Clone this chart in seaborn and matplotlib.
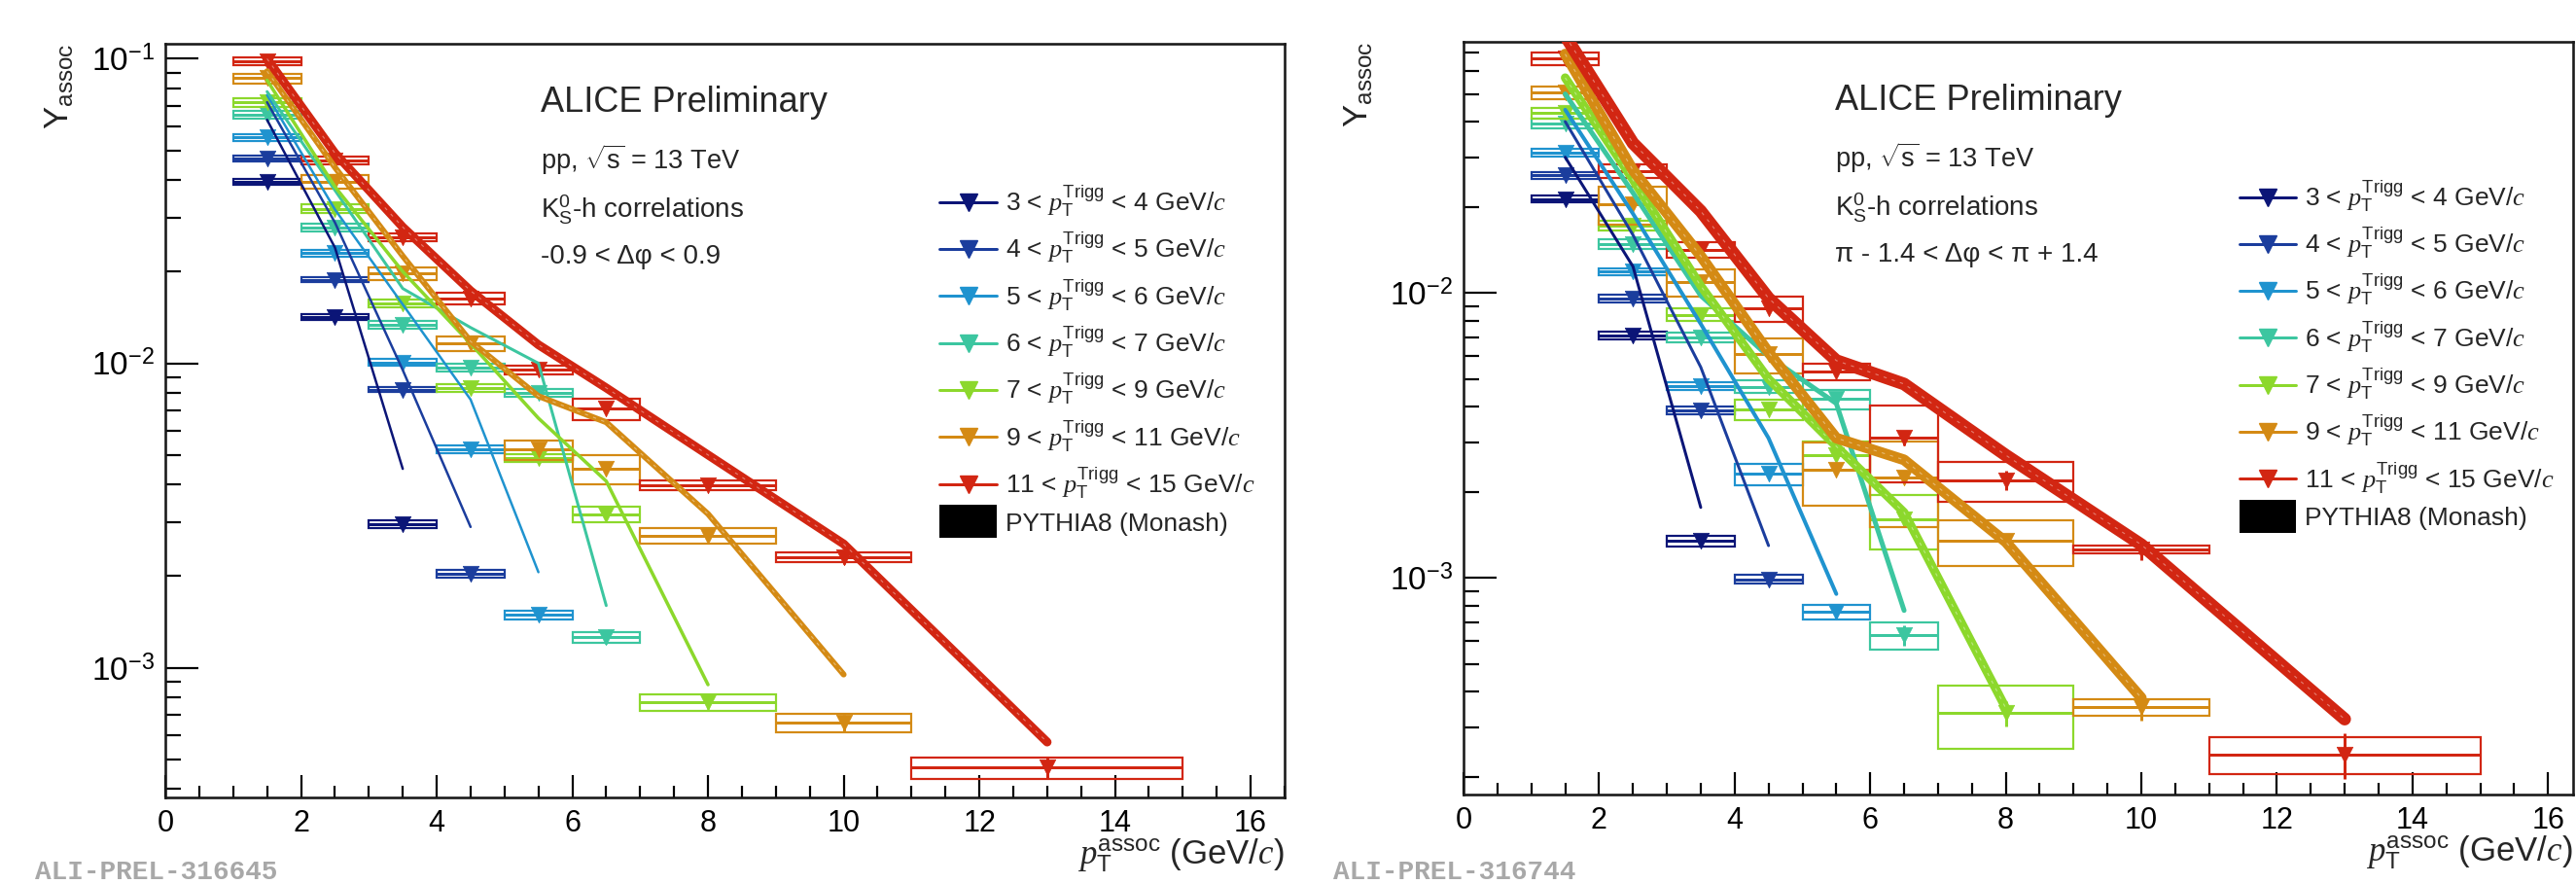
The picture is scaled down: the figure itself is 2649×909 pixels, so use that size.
import numpy as np
import pandas as pd
import matplotlib
matplotlib.use("Agg")
import matplotlib.pyplot as plt
import seaborn as sns
from matplotlib.patches import Rectangle
from matplotlib.lines import Line2D
from matplotlib.ticker import LogLocator, MultipleLocator, NullFormatter, FuncFormatter

sns.set_theme(style="ticks")
plt.rcParams["font.family"] = ["Liberation Sans", "DejaVu Sans"]
plt.rcParams["mathtext.fontset"] = "custom"
plt.rcParams["mathtext.rm"] = "Liberation Sans"
plt.rcParams["mathtext.it"] = "Liberation Serif:italic"
plt.rcParams["mathtext.bf"] = "Liberation Sans:bold"

# ---------------- data ----------------
BIN_LO = [1, 2, 3, 4, 5, 6, 7, 9, 11]
BIN_HI = [2, 3, 4, 5, 6, 7, 9, 11, 15]
CENTERS = [1.5, 2.5, 3.5, 4.5, 5.5, 6.5, 8, 10, 13]

TRIG_LABELS = [
    r"3 < $p_{\mathrm{T}}^{\mathrm{Trigg}}$ < 4 GeV/$c$",
    r"4 < $p_{\mathrm{T}}^{\mathrm{Trigg}}$ < 5 GeV/$c$",
    r"5 < $p_{\mathrm{T}}^{\mathrm{Trigg}}$ < 6 GeV/$c$",
    r"6 < $p_{\mathrm{T}}^{\mathrm{Trigg}}$ < 7 GeV/$c$",
    r"7 < $p_{\mathrm{T}}^{\mathrm{Trigg}}$ < 9 GeV/$c$",
    r"9 < $p_{\mathrm{T}}^{\mathrm{Trigg}}$ < 11 GeV/$c$",
    r"11 < $p_{\mathrm{T}}^{\mathrm{Trigg}}$ < 15 GeV/$c$",
]
COLORS = ["#0b1577", "#1b3d9d", "#1f93cf", "#3cc6a0", "#8cd82c", "#d48a14", "#d22612"]

# near side (-0.9 < dphi < 0.9)
NS_Y = [
    [0.0394, 0.0142, 0.00297],
    [0.0470, 0.0188, 0.0082, 0.00203],
    [0.0551, 0.0230, 0.01005, 0.00521, 0.00149],
    [0.0654, 0.0279, 0.0134, 0.0097, 0.0080, 0.00126],
    [0.0718, 0.0322, 0.0157, 0.0083, 0.0049, 0.00319, 0.00077],
    [0.0863, 0.0394, 0.0197, 0.0116, 0.0052, 0.0045, 0.00272, 0.00066],
    [0.0980, 0.0465, 0.0259, 0.0163, 0.0095, 0.00708, 0.00398, 0.0023, 0.00047],
]
NS_SYS = [
    [0.02, 0.02, 0.03],
    [0.02, 0.02, 0.02, 0.03],
    [0.025, 0.025, 0.025, 0.03, 0.035],
    [0.03, 0.03, 0.03, 0.03, 0.03, 0.04],
    [0.03, 0.03, 0.03, 0.03, 0.03, 0.06, 0.06],
    [0.037, 0.05, 0.05, 0.055, 0.075, 0.11, 0.06, 0.07],
    [0.03, 0.03, 0.03, 0.044, 0.03, 0.08, 0.037, 0.037, 0.08],
]
NS_STAT = [
    [0.01, 0.01, 0.03],
    [0.01, 0.01, 0.01, 0.04],
    [0.01, 0.01, 0.01, 0.02, 0.04],
    [0.01, 0.01, 0.01, 0.02, 0.02, 0.05],
    [0.01, 0.01, 0.01, 0.02, 0.02, 0.03, 0.05],
    [0.01, 0.01, 0.01, 0.02, 0.02, 0.03, 0.04, 0.06],
    [0.01, 0.01, 0.01, 0.02, 0.02, 0.03, 0.03, 0.05, 0.08],
]
NS_PYTHIA = [
    [0.063, 0.024, 0.0045],
    [0.072, 0.029, 0.0095, 0.0029],
    [0.076, 0.032, 0.0156, 0.0076, 0.00206],
    [0.078, 0.037, 0.0176, 0.0131, 0.0100, 0.0016],
    [0.085, 0.038, 0.020, 0.0116, 0.0066, 0.0041, 0.00088],
    [0.091, 0.044, 0.0225, 0.0118, 0.0078, 0.0064, 0.0032, 0.00095],
    [0.100, 0.049, 0.028, 0.0173, 0.0115, 0.0083, 0.0050, 0.00255, 0.00057],
]

# away side (pi-1.4 < dphi < pi+1.4)
AS_Y = [
    [0.0214, 0.0071, 0.00135],
    [0.0259, 0.0096, 0.00387, 0.00099],
    [0.0311, 0.0119, 0.00471, 0.00232, 0.00076],
    [0.0393, 0.0149, 0.0070, 0.0047, 0.00425, 0.00063],
    [0.0428, 0.0173, 0.0084, 0.0039, 0.0027, 0.00161, 0.000336],
    [0.0505, 0.0205, 0.0109, 0.0061, 0.0024, 0.00226, 0.00135, 0.000352],
    [0.0665, 0.0269, 0.0142, 0.00884, 0.0053, 0.0031, 0.00221, 0.00126, 0.000241],
]
AS_SYS = [
    [0.03, 0.03, 0.045],
    [0.03, 0.03, 0.03, 0.035],
    [0.03, 0.03, 0.03, 0.085, 0.06],
    [0.04, 0.04, 0.04, 0.05, 0.08, 0.11],
    [0.04, 0.04, 0.05, 0.08, 0.12, 0.22, 0.25],
    [0.05, 0.15, 0.11, 0.14, 0.25, 0.33, 0.18, 0.067],
    [0.05, 0.056, 0.065, 0.10, 0.07, 0.30, 0.16, 0.03, 0.15],
]
AS_STAT = [
    [0.01, 0.02, 0.04],
    [0.01, 0.02, 0.02, 0.04],
    [0.01, 0.02, 0.02, 0.03, 0.05],
    [0.01, 0.02, 0.02, 0.03, 0.04, 0.08],
    [0.01, 0.02, 0.02, 0.03, 0.04, 0.06, 0.10],
    [0.01, 0.02, 0.02, 0.03, 0.04, 0.05, 0.06, 0.10],
    [0.01, 0.02, 0.02, 0.03, 0.04, 0.06, 0.08, 0.08, 0.18],
]
AS_PYTHIA = [
    [0.030, 0.0124, 0.00177],
    [0.040, 0.016, 0.0055, 0.0013],
    [0.044, 0.019, 0.0078, 0.0031, 0.00088],
    [0.050, 0.0225, 0.0098, 0.0060, 0.0041, 0.00077],
    [0.057, 0.025, 0.0106, 0.0050, 0.0029, 0.0017, 0.00035],
    [0.069, 0.027, 0.0135, 0.0062, 0.0031, 0.0026, 0.00134, 0.00038],
    [0.080, 0.0336, 0.0194, 0.0096, 0.0058, 0.0048, 0.0027, 0.00131, 0.00032],
]

NS_TEXT = ["ALICE Preliminary", r"pp, $\sqrt{\mathrm{s}}$ = 13 TeV",
           r"$\mathrm{K}^{0}_{\mathrm{S}}$-h correlations", "-0.9 < \u0394\u03c6 < 0.9"]
AS_TEXT = ["ALICE Preliminary", r"pp, $\sqrt{\mathrm{s}}$ = 13 TeV",
           r"$\mathrm{K}^{0}_{\mathrm{S}}$-h correlations", "\u03c0 - 1.4 < \u0394\u03c6 < \u03c0 + 1.4"]

# ---------------- figure ----------------
W, H = 2649, 909
fig = plt.figure(figsize=(W / 100, H / 100), dpi=100)
fig.patch.set_facecolor("white")


def px(v):
    return v * 0.72


def panel(rect, Y, SYS, STAT, PYT, ylim, xmax, pyt_lw, texts, tag, tag_x, leg_anchor):
    ax = fig.add_axes(rect)
    ax.set_yscale("log")
    ax.set_xlim(0, xmax)
    ax.set_ylim(*ylim)
    for i in range(7):
        n = len(Y[i])
        xc = np.array(CENTERS[:n], dtype=float)
        lo = np.array(BIN_LO[:n], dtype=float)
        hi = np.array(BIN_HI[:n], dtype=float)
        y = np.array(Y[i])
        s = np.array(SYS[i])
        st = np.array(STAT[i])
        c = COLORS[i]
        z = 2 + i * 0.1
        for xl, xh, yy, ss in zip(lo, hi, y, s):
            ax.add_patch(Rectangle((xl, yy * (1 - ss)), xh - xl, 2 * yy * ss,
                                   fill=False, ec=c, lw=px(2.2), zorder=z))
        ax.errorbar(xc, y, xerr=[xc - lo, hi - xc], yerr=y * st, fmt="none",
                    ecolor=c, elinewidth=px(3), capsize=0, zorder=z + 0.01)
        sns.scatterplot(x=xc, y=y, marker="v", s=140, color=c, edgecolor=c,
                        linewidth=0.5, ax=ax, zorder=z + 0.02, legend=False)
    for i in range(7):
        n = len(PYT[i])
        df = pd.DataFrame({"pT": CENTERS[:n], "Y": PYT[i]})
        sns.lineplot(data=df, x="pT", y="Y", ax=ax, color=COLORS[i],
                     lw=px(pyt_lw[i]), estimator=None, sort=False,
                     legend=False, zorder=3 + i * 0.1)
        if pyt_lw[i] >= 6:
            sns.lineplot(data=df, x="pT", y="Y", ax=ax, color="white",
                         lw=0.8, estimator=None, sort=False, alpha=0.4,
                         dashes=(3, 5), legend=False, zorder=3.05 + i * 0.1)

    # axes styling (ROOT-like)
    ax.xaxis.set_major_locator(MultipleLocator(2))
    ax.xaxis.set_minor_locator(MultipleLocator(0.5))
    ax.yaxis.set_major_locator(LogLocator(base=10, numticks=10))
    ax.yaxis.set_minor_locator(LogLocator(base=10, subs=np.arange(2, 10), numticks=30))
    ax.yaxis.set_minor_formatter(NullFormatter())
    ax.yaxis.set_major_formatter(FuncFormatter(lambda v, p: r"$10^{%d}$" % round(np.log10(v))))
    ax.tick_params(axis="both", which="both", direction="in", top=False, right=False,
                   width=px(2.2), color="black", labelcolor="black")
    ax.tick_params(axis="x", labelsize=22)
    ax.tick_params(axis="y", labelsize=24)
    ax.tick_params(axis="y", which="major", length=px(34), pad=px(11))
    ax.tick_params(axis="y", which="minor", length=px(16))
    ax.tick_params(axis="x", which="major", length=px(23), pad=px(12))
    ax.tick_params(axis="x", which="minor", length=px(12))
    for sp in ax.spines.values():
        sp.set_linewidth(px(2.6))
        sp.set_color("#1a1a1a")
    ax.set_xlabel(r"$p_{\mathrm{T}}^{\mathrm{assoc}}$ (GeV/$c$)", fontsize=25)
    ax.xaxis.set_label_coords(1.0, -0.077)
    ax.xaxis.label.set_ha("right")
    ax.xaxis.label.set_va("center")
    ax.set_ylabel(r"Y$_{\mathrm{assoc}}$", fontsize=25)
    ax.yaxis.set_label_coords(-0.094, 1.0)
    ax.yaxis.label.set_ha("right")
    ax.yaxis.label.set_va("center")

    ax.text(0.335, 0.910, texts[0], transform=ax.transAxes, fontsize=26, va="baseline")
    ax.text(0.335, 0.833, texts[1], transform=ax.transAxes, fontsize=19.5, va="baseline")
    ax.text(0.335, 0.768, texts[2], transform=ax.transAxes, fontsize=20, va="baseline")
    ax.text(0.335, 0.708, texts[3], transform=ax.transAxes, fontsize=20, va="baseline")

    handles = [Line2D([], [], color=COLORS[i], marker="v", markersize=13, lw=px(3))
               for i in range(7)]
    handles.append(Line2D([], [], color="black", lw=px(34), solid_capstyle="butt"))
    labels = TRIG_LABELS + ["PYTHIA8 (Monash)"]
    ax.legend(handles, labels, loc="upper left", bbox_to_anchor=leg_anchor,
              frameon=False, fontsize=19, handlelength=2.2, handletextpad=0.35,
              labelspacing=0.44, borderpad=0, borderaxespad=0)

    fig.text(tag_x, 0.006, tag, fontsize=20, color="#a8a8a8",
             family="Liberation Mono", weight="bold", va="baseline")
    return ax


axL = panel([170 / W, 1 - 820 / H, (1321 - 170) / W, (820 - 45) / H],
            NS_Y, NS_SYS, NS_STAT, NS_PYTHIA, (3.75e-4, 0.112), 16.5,
            [2.5, 2.5, 2.5, 3, 3.5, 6, 9], NS_TEXT, "ALI-PREL-316645", 36 / W,
            (0.692, 0.815))
axR = panel([1505 / W, 1 - 817 / H, (2646 - 1505) / W, (817 - 43) / H],
            AS_Y, AS_SYS, AS_STAT, AS_PYTHIA, (1.74e-4, 0.0762), 16.37,
            [3, 3, 4, 5, 9, 11, 13], AS_TEXT, "ALI-PREL-316744", 1371 / W,
            (0.699, 0.819))

fig.savefig("out.png", dpi=100, facecolor="white")
